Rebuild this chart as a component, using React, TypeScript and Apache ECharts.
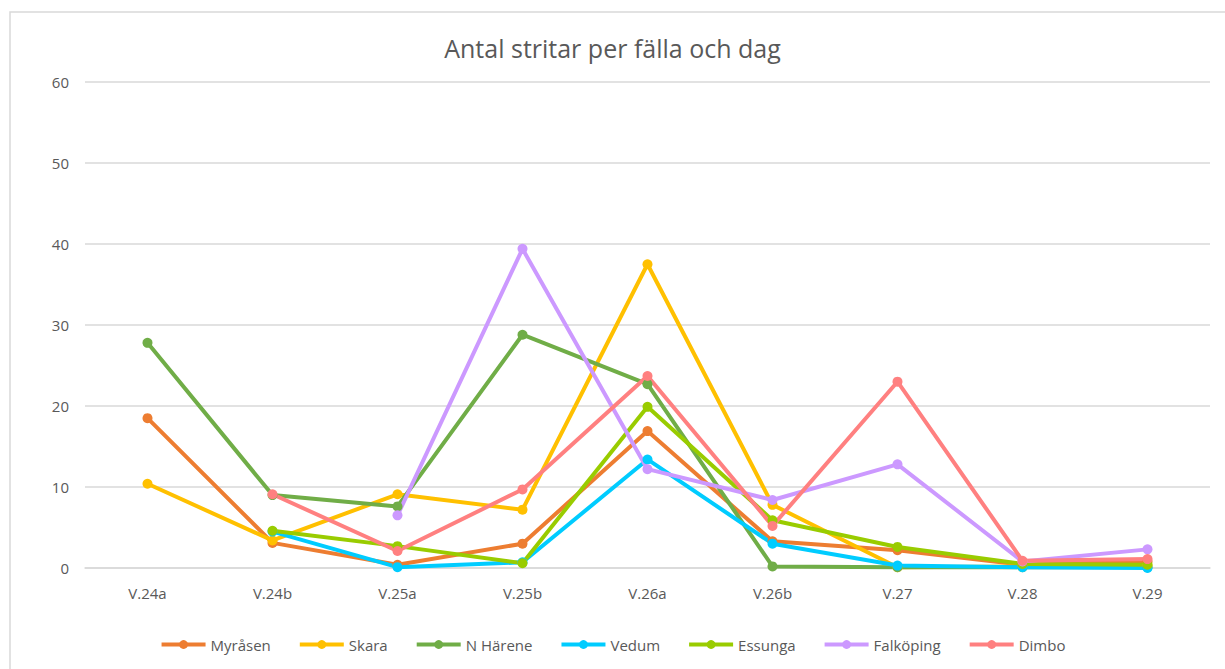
import React, { useEffect, useRef } from "react";
import * as echarts from "echarts";

const categories = ["V.24a", "V.24b", "V.25a", "V.25b", "V.26a", "V.26b", "V.27", "V.28", "V.29"];
const seriesNames = ["Myråsen", "Skara", "N Härene", "Vedum", "Essunga", "Falköping", "Dimbo"];
const myrasen = [18.5, 3.1, 0.4, 3.0, 16.9, 3.3, 2.2, 0.4, 0.8];
const skara = [10.4, 3.4, 9.1, 7.2, 37.5, 7.8, 0.1, 0.2, 0.3];
const nHarene = [27.8, 9.0, 7.6, 28.8, 22.7, 0.2, 0.1, 0.1, 0.1];
const vedum = [null, 4.5, 0.1, 0.7, 13.4, 3.0, 0.3, 0.1, 0.0];
const essunga = [null, 4.6, 2.7, 0.6, 19.9, 5.9, 2.6, 0.5, 0.4];
const falkoping = [null, null, 6.5, 39.4, 12.2, 8.4, 12.8, 0.8, 2.3];
const dimbo = [null, 9.1, 2.1, 9.7, 23.7, 5.2, 23.0, 0.9, 1.1];
const yTicks = [0, 10, 20, 30, 40, 50, 60];

const colors = ["#ED7D31", "#FFC000", "#70AD47", "#00CCFF", "#99CC00", "#CC99FF", "#FF8080"];
const allData = [myrasen, skara, nHarene, vedum, essunga, falkoping, dimbo];

export default function App() {
  const ref = useRef<HTMLDivElement>(null);
  useEffect(() => {
    if (!ref.current) return;
    const chart = echarts.init(ref.current, null, { renderer: "svg" });
    const font = "'Open Sans', 'Noto Sans', sans-serif";
    chart.setOption({
      animation: false,
      backgroundColor: "#ffffff",
      textStyle: { fontFamily: font },
      title: {
        text: "Antal stritar per fälla och dag",
        left: "center",
        top: 30,
        textStyle: { fontFamily: font, fontSize: 25, fontWeight: "normal", color: "#595959" },
      },
      graphic: [
        {
          type: "rect",
          shape: { x: 10, y: 12, width: 1240, height: 700 },
          style: { fill: "none", stroke: "#d9d9d9", lineWidth: 1.5 },
          silent: true,
        },
      ],
      grid: { left: 85, right: 15, top: 82, bottom: 101, containLabel: false },
      legend: {
        left: "center",
        top: 632,
        itemWidth: 44,
        itemHeight: 11,
        itemGap: 27,
        lineStyle: { width: 4 },
        textStyle: { fontFamily: font, fontSize: 15, color: "#595959" },
        data: seriesNames,
      },
      xAxis: {
        type: "category",
        data: categories,
        boundaryGap: true,
        axisLine: { show: true, lineStyle: { color: "#d9d9d9", width: 1.5 } },
        axisTick: { show: false },
        axisLabel: { color: "#595959", fontSize: 15, margin: 17, fontFamily: font },
      },
      yAxis: {
        type: "value",
        min: yTicks[0],
        max: yTicks[yTicks.length - 1],
        interval: 10,
        axisLine: { show: false },
        axisTick: { show: false },
        axisLabel: { color: "#595959", fontSize: 15, margin: 16, fontFamily: font },
        splitLine: { lineStyle: { color: "#d9d9d9", width: 1.5 } },
      },
      series: seriesNames.map((name, i) => ({
        name,
        type: "line",
        data: allData[i],
        symbol: "circle",
        symbolSize: 10,
        color: colors[i],
        lineStyle: { width: 4, color: colors[i] },
        itemStyle: { color: colors[i] },
      })),
    });
    return () => chart.dispose();
  }, []);
  return (
    <div
      ref={ref}
      style={{ position: "absolute", left: 0, top: 0, width: 1225, height: 669 }}
    />
  );
}
